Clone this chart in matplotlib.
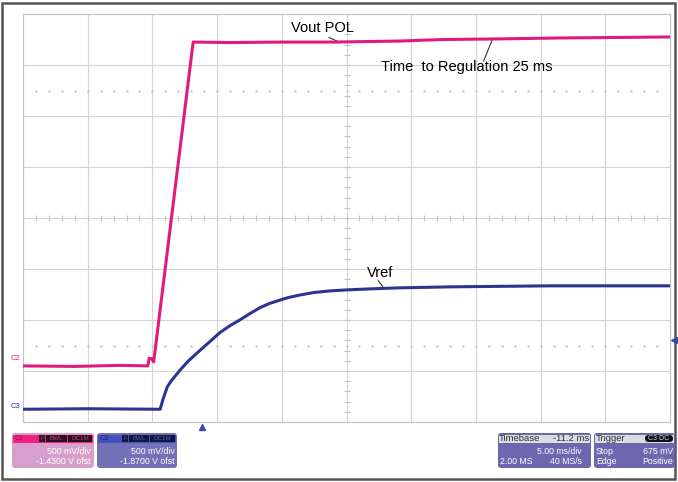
import matplotlib
matplotlib.use("Agg")
import matplotlib.pyplot as plt
from matplotlib.patches import FancyBboxPatch, Rectangle
import numpy as np

plt.rcParams['font.family'] = ['Liberation Sans', 'DejaVu Sans']

# traces, in screen divisions (10 x 8)
c2_x = [0.0, 0.8, 1.5, 1.93, 1.95, 1.99, 2.02, 2.63, 3.2, 4.0, 4.82, 5.83, 6.5, 7.26, 8.3, 9.2, 10.0]
c2_y = [1.10, 1.09, 1.11, 1.10, 1.25, 1.24, 1.18, 7.45, 7.44, 7.45, 7.45, 7.47, 7.50, 7.51, 7.53, 7.54, 7.55]
c3_x = [0.0, 1.0, 2.12, 2.16, 2.23, 2.30, 2.43, 2.55, 2.74, 2.90, 3.04, 3.20, 3.35, 3.50, 3.66,
        3.80, 3.97, 4.10, 4.28, 4.50, 4.74, 5.00, 5.36, 5.80, 6.6, 8.15, 10.0]
c3_y = [0.25, 0.26, 0.25, 0.43, 0.69, 0.82, 1.02, 1.19, 1.41, 1.59, 1.75, 1.89, 2.00, 2.12, 2.24,
        2.32, 2.39, 2.44, 2.49, 2.54, 2.57, 2.59, 2.61, 2.63, 2.65, 2.67, 2.67]

trig_pos = 2.77     # trigger time marker (div)
trig_level = 1.60   # trigger level marker (div)

pink = '#e2197c'
navy = '#2c3592'

W, H = 678, 482
fig = plt.figure(figsize=(W / 100, H / 100), dpi=100)

# overlay in pixel coords for the frame and info boxes
ov = fig.add_axes([0, 0, 1, 1])
ov.set_xlim(0, W)
ov.set_ylim(H, 0)
ov.axis('off')
ov.add_patch(Rectangle((2, 3), 673, 476, fill=False, ec='#555555', lw=1.8))

# scope screen
x0, y0, x1, y1 = 23, 14, 670, 422
ax = fig.add_axes([x0 / W, 1 - y1 / H, (x1 - x0) / W, (y1 - y0) / H])
ax.set_xlim(0, 10)
ax.set_ylim(0, 8)
ax.set_xticks([])
ax.set_yticks([])
for s in ax.spines.values():
    s.set_color('#c4c4c4')
    s.set_linewidth(0.9)

for i in range(1, 10):
    ax.axvline(i, color='#d4d4d4', lw=0.8, zorder=1)
for j in range(1, 8):
    ax.axhline(j, color='#d4d4d4', lw=0.8, zorder=1)

minor = np.arange(0.2, 10, 0.2)
ax.plot(minor, [4] * len(minor), ls='none', marker='|', ms=4, color='#c4c4c4', mew=0.8)
minor_v = np.arange(0.2, 8, 0.2)
ax.plot([5] * len(minor_v), minor_v, ls='none', marker='_', ms=4, color='#c4c4c4', mew=0.8)
for yd in (1.5, 6.5):
    ax.plot(minor, [yd] * len(minor), ls='none', marker='.', ms=1.5, color='#c8c8c8')

ax.plot(c2_x, c2_y, color=pink, lw=2.2, zorder=3)
ax.plot(c3_x, c3_y, color=navy, lw=2.2, zorder=3)

# annotations
ax.text(4.14, 7.72, 'Vout POL', fontsize=10.5, va='center', ha='left')
ax.plot([4.73, 4.85], [7.54, 7.47], color='#333333', lw=0.8)
ax.text(5.53, 6.97, 'Time  to Regulation 25 ms', fontsize=10.5, va='center', ha='left')
ax.plot([7.12, 7.26], [7.08, 7.52], color='#333333', lw=0.8)
ax.text(5.31, 2.93, 'Vref', fontsize=10.5, va='center', ha='left')
ax.plot([5.49, 5.56], [2.77, 2.66], color='#333333', lw=0.8)

# channel markers
ov.text(11, 359, 'C2', fontsize=5.5, color=pink, va='center')
ov.text(11, 406, 'C3', fontsize=5.5, color=navy, va='center')
ov.plot([x0 + trig_pos * (x1 - x0) / 10], [427], marker='^', ms=5, color='#3b4aa8')
ov.plot([674], [y1 - trig_level * (y1 - y0) / 8], marker='<', ms=5, color='#3b4aa8')


def box(xa, xb, head_col, body_col):
    ov.add_patch(FancyBboxPatch((xa, 433), xb - xa, 35, boxstyle='round,pad=0,rounding_size=3',
                                fc=body_col, ec='none'))
    ov.add_patch(Rectangle((xa + 1, 434.5), xb - xa - 2, 8, fc=head_col, ec='none'))


def badge(xa, xb, txt, fc='#2a1020', tc='#c04070'):
    ov.add_patch(Rectangle((xa, 435), xb - xa, 7, fc=fc, ec='none'))
    ov.text((xa + xb) / 2, 438.5, txt, fontsize=4.5, color=tc, ha='center', va='center')


fs = 6.3
hs = 6.8
box(12, 94, '#f0207f', '#d79fcd')
ov.text(15, 438.5, 'C2', fontsize=5, color='#a01050', va='center')
badge(39, 45, 'F')
badge(46, 67, 'BWL')
badge(68, 92, 'DC1M')
ov.text(91, 452, '500 mV/div', fontsize=fs, color='white', ha='right', va='center')
ov.text(91, 462, '-1.4300 V ofst', fontsize=fs, color='white', ha='right', va='center')

box(97, 177, '#4350c0', '#7472b6')
ov.text(100, 438.5, 'C3', fontsize=5, color='#1a2070', va='center')
badge(122, 128, 'F', fc='#101840', tc='#5060b0')
badge(129, 149, 'BWL', fc='#101840', tc='#5060b0')
badge(150, 175, 'DC1M', fc='#101840', tc='#5060b0')
ov.text(175, 452, '500 mV/div', fontsize=fs, color='white', ha='right', va='center')
ov.text(175, 462, '-1.8700 V ofst', fontsize=fs, color='white', ha='right', va='center')

box(498, 591, '#dcdcdc', '#6d67b0')
ov.text(499, 438.5, 'Timebase', fontsize=hs, color='#333333', va='center')
ov.text(589, 438.5, '-11.2 ms', fontsize=hs, color='#333333', ha='right', va='center')
ov.text(582, 452, '5.00 ms/div', fontsize=fs, color='white', ha='right', va='center')
ov.text(500, 462, '2.00 MS', fontsize=fs, color='white', va='center')
ov.text(582, 462, '40 MS/s', fontsize=fs, color='white', ha='right', va='center')

box(594, 675, '#dcdcdc', '#6d67b0')
ov.text(596, 438.5, 'Trigger', fontsize=hs, color='#333333', va='center')
ov.add_patch(FancyBboxPatch((645, 435), 28, 7, boxstyle='round,pad=0,rounding_size=3.5',
                            fc='#111111', ec='none'))
ov.text(659, 438.5, 'C3 DC', fontsize=5, color='#dddddd', ha='center', va='center')
ov.text(596, 452, 'Stop', fontsize=fs, color='white', va='center')
ov.text(673, 452, '675 mV', fontsize=fs, color='white', ha='right', va='center')
ov.text(596, 462, 'Edge', fontsize=fs, color='white', va='center')
ov.text(673, 462, 'Positive', fontsize=fs, color='white', ha='right', va='center')

fig.savefig('out.png', dpi=100)
